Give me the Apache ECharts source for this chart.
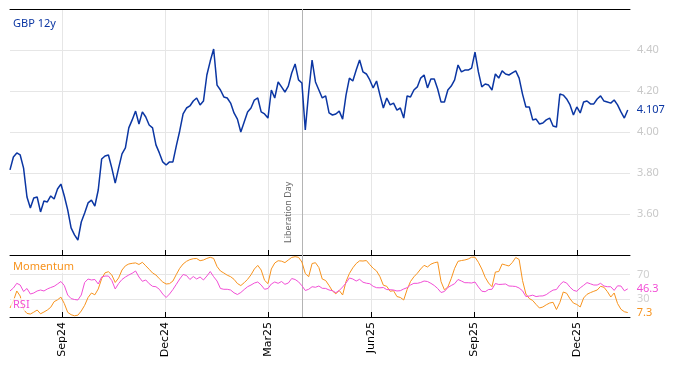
<!DOCTYPE html>
<html><head><meta charset="utf-8">
<script src="https://cdn.jsdelivr.net/npm/echarts@6/dist/echarts.min.js"></script>
<style>html,body{margin:0;padding:0;background:#fff}#c{width:674px;height:366px}</style>
</head><body><div id="c"></div>
<script>
// ---- data (sampled every 3 calendar days from startDate) ----
const startDate = '2024-07-18';
const stepDays = 3;
const axisStart = '2024-07-18';
const axisEnd = '2026-01-17';

const gbp12y = [
3.815,3.878,3.898,3.888,3.824,3.683,3.629,3.678,3.683,3.610,
3.663,3.659,3.688,3.673,3.722,3.746,3.688,3.620,3.532,3.498,
3.473,3.561,3.605,3.654,3.668,3.639,3.717,3.868,3.883,3.888,
3.824,3.751,3.824,3.893,3.922,4.020,4.059,4.102,4.039,4.098,
4.073,4.034,4.020,3.937,3.898,3.854,3.839,3.854,3.854,3.932,
4.005,4.088,4.117,4.127,4.151,4.166,4.132,4.151,4.278,4.346,
4.405,4.229,4.205,4.171,4.166,4.141,4.093,4.063,4.000,4.049,
4.098,4.117,4.156,4.166,4.098,4.088,4.068,4.205,4.166,4.244,
4.220,4.195,4.224,4.288,4.332,4.254,4.239,4.010,4.195,4.351,
4.244,4.205,4.166,4.176,4.093,4.083,4.088,4.102,4.063,4.180,
4.263,4.249,4.302,4.351,4.293,4.283,4.254,4.215,4.249,4.180,
4.117,4.166,4.132,4.141,4.107,4.117,4.068,4.176,4.171,4.205,
4.220,4.263,4.278,4.215,4.259,4.259,4.210,4.146,4.146,4.205,
4.224,4.254,4.327,4.293,4.302,4.302,4.312,4.390,4.293,4.220,
4.234,4.229,4.205,4.283,4.263,4.298,4.283,4.278,4.288,4.298,
4.263,4.185,4.122,4.122,4.059,4.063,4.039,4.044,4.059,4.068,
4.029,4.024,4.185,4.180,4.161,4.132,4.083,4.122,4.093,4.146,
4.151,4.137,4.137,4.161,4.176,4.151,4.146,4.141,4.156,4.132,
4.098,4.068,4.107
];

const momentum = [
14.8,26.3,42.8,34.5,12.3,5.9,4.9,7.9,11.5,5.3,
8.2,11.5,16.0,25.2,28.3,32.7,22.2,7.7,3.8,2.0,
3.0,9.9,19.2,32.1,39.5,36.5,46.1,63.0,72.7,74.5,
69.1,56.8,64.2,77.3,84.2,87.2,88.3,89.0,86.4,90.0,
84.2,78.5,72.4,69.1,63.0,57.6,54.3,54.9,59.2,69.9,
80.1,87.2,91.6,94.4,95.9,96.2,92.6,93.8,96.4,98.2,
96.4,83.1,75.7,72.4,68.8,66.3,62.0,55.1,51.7,56.4,
62.0,69.4,79.0,84.9,77.3,60.4,54.9,79.0,88.8,92.6,
91.8,89.5,93.8,98.0,99.2,98.2,90.5,71.6,66.3,88.0,
89.3,81.4,62.5,60.0,51.8,42.8,38.2,43.6,36.2,58.4,
71.6,80.9,88.0,92.4,92.1,92.9,86.2,80.1,75.7,66.3,
52.3,50.5,42.3,43.3,33.7,32.1,28.0,45.2,58.4,66.1,
71.9,79.0,85.0,82.3,86.9,89.2,90.5,58.1,44.6,49.4,
63.3,80.1,91.6,92.9,93.8,95.4,98.4,98.4,90.0,79.0,
65.3,55.9,49.8,74.0,74.8,87.2,85.5,83.9,89.7,97.9,
94.6,60.0,37.8,30.4,27.1,20.6,14.8,16.5,20.1,23.0,
24.2,12.3,23.9,41.1,39.0,29.9,22.9,20.6,16.5,31.3,
37.3,40.1,42.3,44.4,50.5,48.9,41.8,32.9,39.5,22.2,
12.7,8.7,7.3
];

const rsi = [
42.8,47.7,55.4,52.6,42.0,46.9,37.8,39.5,42.8,44.4,
42.8,46.1,48.5,50.5,54.3,58.4,51.8,36.2,30.3,28.8,
28.0,36.2,56.8,62.5,60.9,61.7,54.3,65.8,67.4,67.4,
60.0,46.1,55.1,61.7,65.8,69.1,71.9,75.7,65.8,58.7,
60.9,54.8,50.5,49.8,45.6,37.8,32.1,37.8,45.2,53.8,
62.5,69.9,68.3,61.7,66.6,62.5,65.8,60.9,67.4,74.8,
66.3,59.2,46.9,45.6,45.6,44.4,39.8,37.0,40.3,45.2,
49.8,52.6,55.9,57.6,52.6,45.6,46.9,54.3,57.6,55.4,
58.4,53.8,55.9,63.3,61.7,57.9,51.5,43.6,45.6,49.8,
48.9,51.0,47.2,47.0,44.4,43.3,40.0,43.6,49.4,55.9,
64.2,62.5,59.2,62.0,57.2,55.6,54.8,50.5,48.2,48.0,
48.5,45.1,44.9,44.4,42.8,43.3,46.1,48.2,52.6,55.4,
55.4,56.8,59.2,58.4,55.4,51.8,46.9,40.3,42.0,48.5,
51.8,54.8,61.7,59.2,56.4,56.4,55.9,57.6,49.4,42.4,
41.6,45.2,45.6,55.1,53.5,53.8,54.3,51.0,50.7,50.2,
47.7,43.1,33.6,34.5,35.9,33.6,34.5,34.7,36.8,40.8,
44.3,45.2,53.0,58.1,55.9,49.0,43.9,42.3,48.0,52.1,
56.6,54.6,52.6,52.6,55.4,51.0,49.8,49.8,43.8,51.3,
51.0,43.1,46.3
];

const quarterTicks = ['2024-09-02','2024-12-02','2025-03-03','2025-06-02','2025-09-01','2025-12-01'];
const quarterLabels = ['Sep24','Dec24','Mar25','Jun25','Sep25','Dec25'];
const eventDate = '2025-04-02';
const eventName = 'Liberation Day';
const rsiBands = [30, 70];
const seriesNames = ['GBP 12y', 'Momentum', 'RSI'];

// ---- build ----
function ts(s){ const p = s.split('-').map(Number); return Date.UTC(p[0], p[1]-1, p[2]); }
const DAY = 86400000;
const t0 = ts(startDate);
const dates = gbp12y.map((_, i) => t0 + i * stepDays * DAY);
const pair = arr => arr.map((v, i) => [dates[i], v]);
const tickTs = quarterTicks.map(ts);
const labelOf = {}; tickTs.forEach((t, i) => { labelOf[t] = quarterLabels[i]; });

const FONT = "'Noto Sans', 'Open Sans', sans-serif";
const BLUE = '#0b36a3', ORANGE = '#f7931e', PINK = '#f24fd6';
const GRID = '#e6e6e6';
// x axis is a linear value axis over UTC timestamps (calendar time)
const xBase = { type: 'value', min: ts(axisStart), max: ts(axisEnd), scale: true };

const chart = echarts.init(document.getElementById('c'), null, { renderer: 'canvas' });
chart.setOption({
  animation: false,
  backgroundColor: '#fff',
  grid: [
    { left: 10, right: 44, top: 9, height: 246, outerBoundsMode: 'none' },
    { left: 10, right: 44, top: 255, height: 62, outerBoundsMode: 'none' }
  ],
  title: [
    { text: seriesNames[0], left: 11, top: 17, padding: [1, 2], textStyle: { color: BLUE, fontSize: 11, fontWeight: 'normal', fontFamily: FONT } },
    { text: seriesNames[1], left: 11, top: 260, padding: [1, 2], backgroundColor: 'rgba(255,255,255,0.7)', textStyle: { color: ORANGE, fontSize: 11, fontWeight: 'normal', fontFamily: FONT } },
    { text: seriesNames[2], left: 11, top: 298, padding: [1, 2], backgroundColor: 'rgba(255,255,255,0.7)', textStyle: { color: PINK, fontSize: 11, fontWeight: 'normal', fontFamily: FONT } }
  ],
  xAxis: [
    Object.assign({}, xBase, {
      gridIndex: 0, position: 'bottom',
      axisLine: { show: true, onZero: false, lineStyle: { color: '#000', width: 1 } },
      axisTick: { show: true, inside: true, length: 5, customValues: tickTs, lineStyle: { color: '#000' } },
      axisLabel: { show: false, customValues: tickTs },
      splitLine: { show: true, lineStyle: { color: GRID, width: 1 } }
    }),
    Object.assign({}, xBase, {
      gridIndex: 0, position: 'top',
      axisLine: { show: true, onZero: false, lineStyle: { color: '#000', width: 1 } },
      axisTick: { show: false }, axisLabel: { show: false }, splitLine: { show: false }
    }),
    Object.assign({}, xBase, {
      gridIndex: 1, position: 'bottom',
      axisLine: { show: true, onZero: false, lineStyle: { color: '#000', width: 1 } },
      axisTick: { show: true, inside: true, length: 5, customValues: tickTs, lineStyle: { color: '#000' } },
      axisLabel: { show: true, customValues: tickTs, rotate: 90, margin: 5, color: '#000', fontSize: 11, fontFamily: 'DejaVu Sans', formatter: v => labelOf[v] || '' },
      splitLine: { show: true, lineStyle: { color: GRID, width: 1 } }
    })
  ],
  yAxis: [
    {
      gridIndex: 0, type: 'value', position: 'right', min: 3.4, max: 4.6, interval: 0.2,
      axisLine: { show: false }, axisTick: { show: false },
      axisLabel: { color: '#c8c8c8', fontSize: 11, fontFamily: FONT, margin: 7, showMinLabel: false, showMaxLabel: false, formatter: v => v.toFixed(2) },
      splitLine: { show: true, lineStyle: { color: GRID, width: 1 } }
    },
    {
      gridIndex: 1, type: 'value', position: 'right', min: 0, max: 102,
      axisLine: { show: false }, axisTick: { show: false }, axisLabel: { show: false }, splitLine: { show: false }
    }
  ],
  series: [
    {
      name: seriesNames[0], type: 'line', xAxisIndex: 0, yAxisIndex: 0, data: pair(gbp12y),
      showSymbol: false, symbol: 'none', color: BLUE, lineStyle: { color: BLUE, width: 1.5 }, z: 5,
      endLabel: { show: true, distance: 9, color: BLUE, fontSize: 11, fontFamily: FONT, formatter: p => p.value[1].toFixed(3) },
      markLine: {
        silent: true, symbol: 'none', animation: false,
        lineStyle: { color: '#b4b4b4', width: 1, type: 'solid' },
        label: { show: true, position: 'insideStartTop', distance: [12, 9], formatter: eventName, color: '#666', fontSize: 9, fontFamily: FONT },
        data: [{ xAxis: ts(eventDate) }]
      }
    },
    {
      name: seriesNames[1], type: 'line', xAxisIndex: 2, yAxisIndex: 1, data: pair(momentum),
      showSymbol: false, symbol: 'none', color: ORANGE, lineStyle: { color: ORANGE, width: 1 }, z: 4,
      endLabel: { show: true, distance: 9, color: ORANGE, fontSize: 11, fontFamily: FONT, formatter: p => p.value[1].toFixed(1) }
    },
    {
      name: seriesNames[2], type: 'line', xAxisIndex: 2, yAxisIndex: 1, data: pair(rsi),
      showSymbol: false, symbol: 'none', color: PINK, lineStyle: { color: PINK, width: 1 }, z: 4,
      endLabel: { show: true, distance: 9, color: PINK, fontSize: 11, fontFamily: FONT, formatter: p => p.value[1].toFixed(1) },
      markLine: {
        silent: true, symbol: 'none', animation: false, z: 1,
        lineStyle: { color: GRID, width: 1, type: 'solid' },
        label: { show: true, position: 'end', distance: 7, color: '#d0d0d0', fontSize: 11, fontFamily: FONT, formatter: p => String(p.value) },
        data: rsiBands.map(b => ({ yAxis: b })).concat([{ xAxis: ts(eventDate), lineStyle: { color: '#b4b4b4' }, label: { show: false } }])
      }
    }
  ]
});
</script>
</body></html>
